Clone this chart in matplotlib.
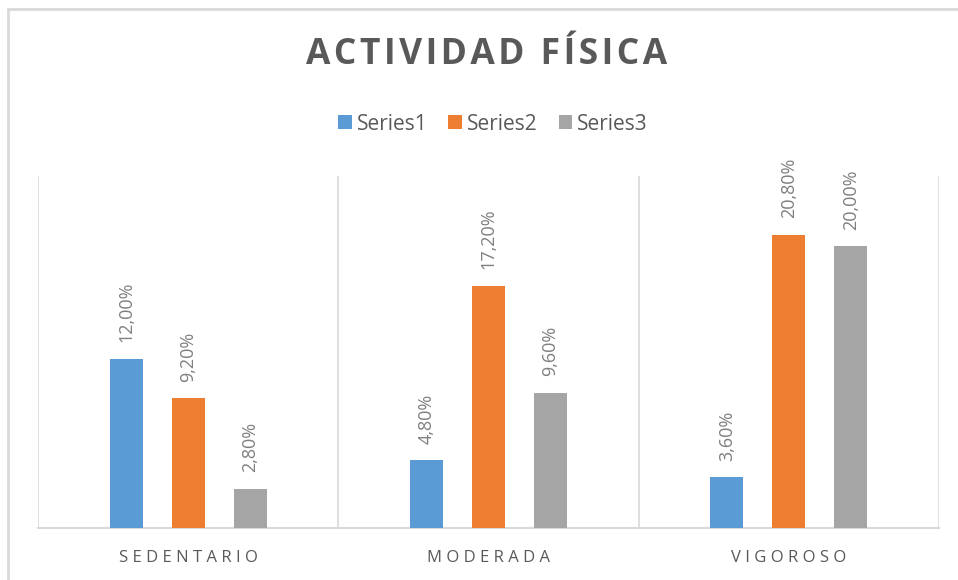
import matplotlib
matplotlib.use("Agg")
import matplotlib.pyplot as plt
from matplotlib.patches import Patch, Rectangle
import numpy as np

categories = ["SEDENTARIO", "MODERADA", "VIGOROSO"]
series_names = ["Series1", "Series2", "Series3"]
series1 = [12.0, 4.8, 3.6]
series2 = [9.2, 17.2, 20.8]
series3 = [2.8, 9.6, 20.0]
colors = ["#5b9bd5", "#ed7d31", "#a5a5a5"]
title = "ACTIVIDAD FÍSICA"

FONT = ["Open Sans", "DejaVu Sans"]
plt.rcParams["font.family"] = FONT

def spaced(s, sep):
    return sep.join(list(s))

fig = plt.figure(figsize=(9.58, 5.80), dpi=100)
ax = fig.add_axes([38/958, 1-528/580, (939-38)/958, (528-176)/580])

x = np.arange(len(categories))
width = 0.11
offs = [-0.2067, 0.0, 0.2067]
all_series = [series1, series2, series3]
for s, vals, off, c in zip(series_names, all_series, offs, colors):
    ax.bar(x + off, vals, width=width, color=c, label=s, zorder=3)
    for xi, v in zip(x + off, vals):
        ax.annotate(f"{v:.2f}%".replace(".", ","), (xi, v), xytext=(0, 12),
                    textcoords="offset points", rotation=90, ha="center",
                    va="bottom", fontsize=13, color="#7f7f7f")

ax.set_xlim(-0.5, 2.5)
ax.set_ylim(0, 25)
ax.set_yticks([])
for b in [-0.5, 0.5, 1.5, 2.5]:
    ax.axvline(b, color="#d9d9d9", lw=1.2, zorder=1)
for sp in ["top", "right", "left"]:
    ax.spines[sp].set_visible(False)
ax.spines["bottom"].set_color("#d9d9d9")
ax.spines["bottom"].set_linewidth(1.5)
ax.set_xticks(x)
ax.set_xticklabels([spaced(c, "\u2009\u200a") for c in categories], fontsize=12,
                   color="#595959")
ax.tick_params(axis="x", length=0, pad=16)

fig.text(487/958, 1-55.5/580, spaced(title, "\u200a"), ha="center", va="center",
         fontsize=25.5, fontweight="bold", color="#595959")

handles = [Patch(facecolor=c, edgecolor="none") for c in colors]
fig.legend(handles, series_names, loc="center", bbox_to_anchor=(493/958, 1-124/580),
           ncol=3, frameon=False, fontsize=15, handlelength=0.65, handleheight=0.65,
           handletextpad=0.25, columnspacing=1.0, labelcolor="#595959")

fig.patches.append(Rectangle((8/958, -1.0), 2.0, 2.0-9/580, transform=fig.transFigure,
                             fill=False, edgecolor="#d9d9d9", lw=2))

fig.savefig("out.png", dpi=100, facecolor="white")
